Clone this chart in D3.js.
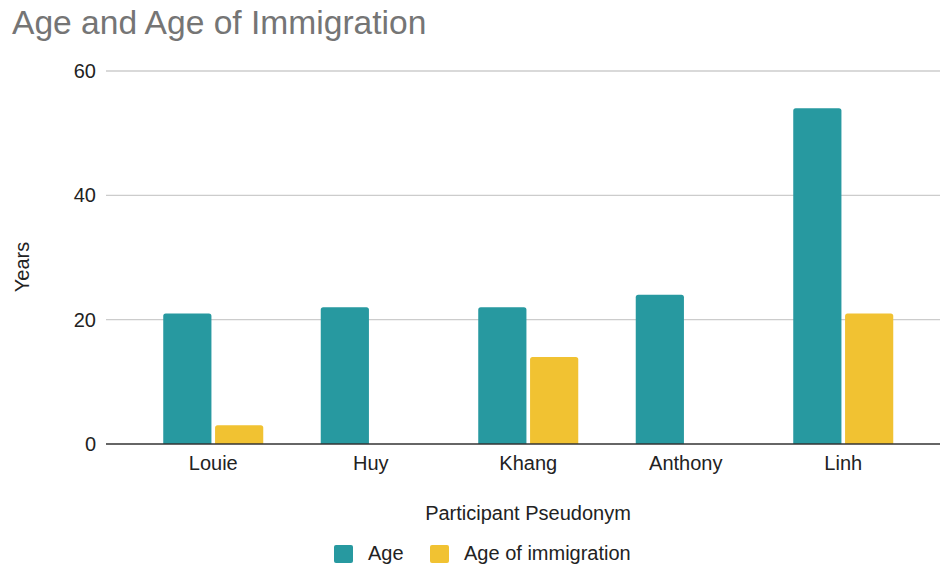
<!DOCTYPE html>
<html>
<head>
<meta charset="utf-8">
<script src="https://cdn.jsdelivr.net/npm/d3@7"></script>
<style>
  html, body { margin: 0; padding: 0; background: #fff; }
  svg { display: block; }
</style>
</head>
<body>
<svg id="chart" width="942" height="567"></svg>
<script>
const categories = ["Louie", "Huy", "Khang", "Anthony", "Linh"];
const seriesNames = ["Age", "Age of immigration"];
const ageValues = [21, 22, 22, 24, 54];
const immigrationValues = [3, 0, 14, 0, 21];
const yTicks = [0, 20, 40, 60];
const colors = ["#2799A0", "#F1C232"];

const svg = d3.select("#chart");
const font = "'Liberation Sans', Arial, sans-serif";
const fs = 20;

const y = d3.scaleLinear().domain([0, 60]).range([444, 71]);
const x0 = d3.scaleBand().domain(categories).range([134.5, 922])
  .paddingInner(0.365).paddingOuter(0.1825);
const x1 = d3.scaleBand().domain(seriesNames).range([0, x0.bandwidth()]).paddingInner(0.07);

const gridLeft = 106, gridRight = 940;

// gridlines
svg.append("g").selectAll("line").data(yTicks.filter(d => d !== 0)).join("line")
  .attr("x1", gridLeft).attr("x2", gridRight)
  .attr("y1", d => y(d)).attr("y2", d => y(d))
  .attr("stroke", "#cccccc").attr("stroke-width", 1.3);

// y axis labels
const yAxis = d3.axisLeft(y).tickValues(yTicks).tickSize(0).tickPadding(0);
const yg = svg.append("g").attr("transform", `translate(96,0)`).call(yAxis);
yg.select(".domain").remove();
yg.selectAll("text").attr("font-family", font).attr("font-size", fs).attr("fill", "#222");

// bars
const data = categories.map((c, i) => ({cat: c, vals: [ageValues[i], immigrationValues[i]]}));
const groups = svg.append("g").selectAll("g").data(data).join("g")
  .attr("transform", d => `translate(${x0(d.cat)},0)`);
groups.selectAll("path").data(d => d.vals.map((v, j) => ({key: seriesNames[j], v, j})).filter(e => e.v > 0))
  .join("path")
  .attr("fill", e => colors[e.j])
  .attr("d", e => {
    const xl = x1(e.key), w = x1.bandwidth(), top = y(e.v), bot = y(0), r = 2.5;
    return `M${xl},${bot} V${top + r} Q${xl},${top} ${xl + r},${top} H${xl + w - r} Q${xl + w},${top} ${xl + w},${top + r} V${bot} Z`;
  });

// baseline
svg.append("line").attr("x1", gridLeft).attr("x2", gridRight)
  .attr("y1", y(0)).attr("y2", y(0)).attr("stroke", "#333").attr("stroke-width", 1.5);

// x axis labels
const xAxis = d3.axisBottom(x0).tickSize(0).tickPadding(12);
const xg = svg.append("g").attr("transform", `translate(0,${y(0)})`).call(xAxis);
xg.select(".domain").remove();
xg.selectAll("text").attr("font-family", font).attr("font-size", fs).attr("fill", "#222");

// title
svg.append("text").attr("x", 12).attr("y", 34)
  .attr("font-family", font).attr("font-size", 33.6).attr("fill", "#757575")
  .text("Age and Age of Immigration");

// axis titles
svg.append("text").attr("x", 528).attr("y", 520).attr("text-anchor", "middle")
  .attr("font-family", font).attr("font-size", fs).attr("fill", "#222")
  .text("Participant Pseudonym");
svg.append("text").attr("transform", "translate(29,267) rotate(-90)").attr("text-anchor", "middle")
  .attr("font-family", font).attr("font-size", fs).attr("fill", "#222")
  .text("Years");

// legend
const legendItems = [{name: seriesNames[0], x: 334, tx: 368}, {name: seriesNames[1], x: 430, tx: 464}];
const lg = svg.append("g");
legendItems.forEach((it, i) => {
  lg.append("rect").attr("x", it.x).attr("y", 545).attr("width", 19).attr("height", 18)
    .attr("rx", 2).attr("fill", colors[i]);
  lg.append("text").attr("x", it.tx).attr("y", 560)
    .attr("font-family", font).attr("font-size", fs).attr("fill", "#222").text(it.name);
});
</script>
</body>
</html>
